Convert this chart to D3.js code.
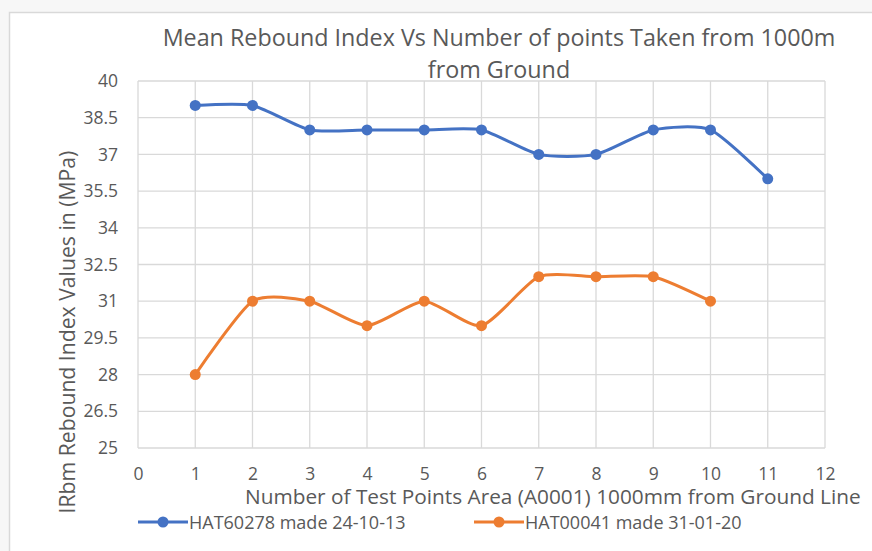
<html>
<head>
<script src='https://d3js.org/d3.v7.min.js'></script>
<style>
body {margin:0; background:#f7f7f7;}
text {font-family: 'Open Sans', sans-serif; fill:#595959;}
</style>
</head>
<body>
<svg width=872 height=551></svg>
<script>
// data
const pointsX = [1,2,3,4,5,6,7,8,9,10,11];
const hat60278 = [39,39,38,38,38,38,37,37,38,38,36];
const hat00041 = [28,31,31,30,31,30,32,32,32,31];
const yTicks = [25,26.5,28,29.5,31,32.5,34,35.5,37,38.5,40];
const xTicks = [0,1,2,3,4,5,6,7,8,9,10,11,12];
const seriesNames = ["HAT60278 made 24-10-13","HAT00041 made 31-01-20"];
const seriesColors = ["#4472C4","#ED7D31"];

var svg = d3.select("svg");
var plotL = 138, plotR = 825, plotT = 81, plotB = 448;

// chart frame
svg.append("rect").attr("x",9.5).attr("y",12.5).attr("width",900).attr("height",600)
  .attr("fill","white").attr("stroke","#d9d9d9").attr("stroke-width",1.5);

var xScale = d3.scaleLinear().domain([0,12]).range([plotL,plotR]);
var yScale = d3.scaleLinear().domain([25,40]).range([plotB,plotT]);

// grid
svg.append("g").selectAll("line").data(yTicks).enter().append("line")
  .attr("x1",plotL).attr("x2",plotR)
  .attr("y1",d=>yScale(d)).attr("y2",d=>yScale(d))
  .attr("stroke","#d9d9d9").attr("stroke-width",1.3);
svg.append("g").selectAll("line").data(xTicks).enter().append("line")
  .attr("y1",plotT).attr("y2",plotB)
  .attr("x1",d=>xScale(d)).attr("x2",d=>xScale(d))
  .attr("stroke","#d9d9d9").attr("stroke-width",1.3);

// axes (labels only)
var yAxis = d3.axisLeft(yScale).tickValues(yTicks).tickSize(0).tickPadding(20).tickFormat(d=>d);
var gy = svg.append("g").attr("transform","translate("+plotL+",0)").call(yAxis);
var xAxis = d3.axisBottom(xScale).tickValues(xTicks).tickSize(0).tickPadding(20);
var gx = svg.append("g").attr("transform","translate(0,"+plotB+")").call(xAxis);
[gx,gy].forEach(g=>{
  g.select(".domain").remove();
  g.selectAll("text").style("font-size","17.5px").attr("fill","#595959")
    .style("font-family","'Open Sans', sans-serif");
});

// series
var line = d3.line().x(d=>xScale(d[0])).y(d=>yScale(d[1])).curve(d3.curveCardinal.tension(0.35));
[hat60278,hat00041].forEach((vals,i)=>{
  var pts = vals.map((v,j)=>[pointsX[j],v]);
  svg.append("path").attr("d",line(pts)).attr("fill","none")
    .attr("stroke",seriesColors[i]).attr("stroke-width",3);
  svg.append("g").selectAll("circle").data(pts).enter().append("circle")
    .attr("cx",d=>xScale(d[0])).attr("cy",d=>yScale(d[1])).attr("r",5.5)
    .attr("fill",seriesColors[i]);
});

// titles
var title = svg.append("text").attr("text-anchor","middle").style("font-size","23.3px");
title.append("tspan").attr("x",499).attr("y",46).text("Mean Rebound Index Vs Number of points Taken from 1000m");
title.append("tspan").attr("x",499).attr("y",78).text("from Ground");

svg.append("text").attr("x",245).attr("y",504).style("font-size","20.8px")
  .text("Number of Test Points Area (A0001) 1000mm from Ground Line");

svg.append("text").attr("transform","translate(75,332) rotate(-90)")
  .attr("text-anchor","middle").style("font-size","21.2px")
  .text("IRbm Rebound Index Values in (MPa)");

// legend
var legX = [138,474];
seriesNames.forEach((n,i)=>{
  var g = svg.append("g").attr("transform","translate("+legX[i]+",522)");
  g.append("line").attr("x1",0).attr("x2",50).attr("stroke",seriesColors[i]).attr("stroke-width",3);
  g.append("circle").attr("cx",25).attr("r",5.5).attr("fill",seriesColors[i]);
  g.append("text").attr("x",51).attr("y",7).style("font-size","18px").text(n);
});
</script>
</body>
</html>
